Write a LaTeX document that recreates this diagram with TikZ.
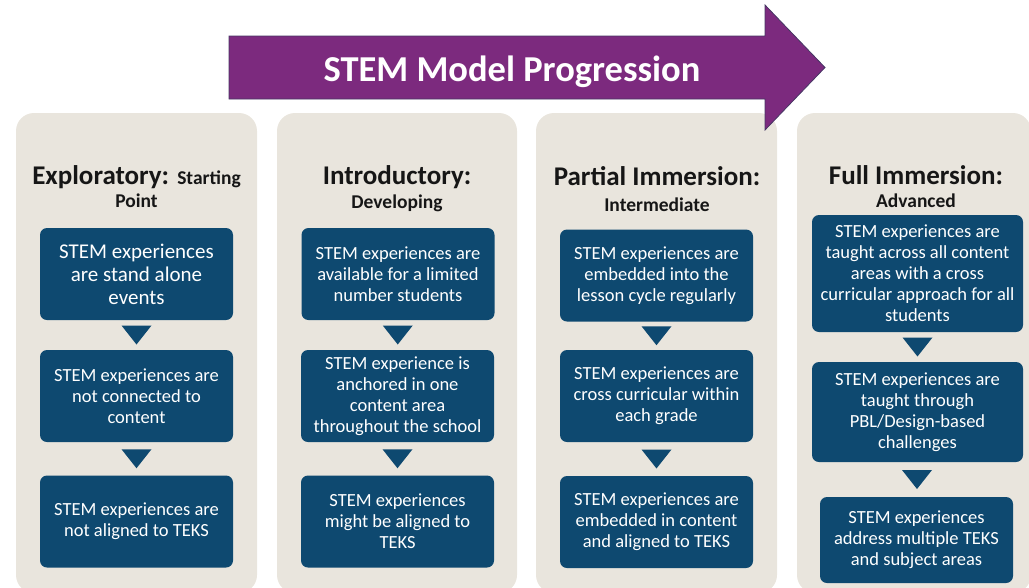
\documentclass[tikz,border=0pt]{standalone}
\usepackage{fontspec}
\setmainfont{Carlito}
\usetikzlibrary{calc,positioning}
\definecolor{stemPurple}{RGB}{124,42,126}
\definecolor{stemEdge}{RGB}{70,55,100}
\definecolor{stemBlue}{RGB}{14,73,112}
\definecolor{stemTan}{RGB}{233,229,221}
\definecolor{stemInk}{RGB}{22,22,22}

\tikzset{
  column/.style={fill=stemTan, rounded corners=18pt},
  stage/.style={fill=stemBlue, rounded corners=7pt, text=white, align=center,
    inner sep=1pt, minimum width=193pt, minimum height=92pt,
    font=\fontsize{18.5}{21}\selectfont},
  heading/.style={text=stemInk, anchor=base, inner sep=0pt,
    font=\bfseries\fontsize{27}{28}\selectfont},
  subheading/.style={text=stemInk, anchor=base, inner sep=0pt,
    font=\bfseries\fontsize{19.5}{22}\selectfont},
  pointer/.style={fill=stemBlue}
}

\begin{document}
\begin{tikzpicture}[x=1pt,y=-1pt]
  \useasboundingbox (0,0) rectangle (1029,587);

  % columns
  \fill[column] (16,113) rectangle (257,593);
  \fill[column] (277,113) rectangle (517,593);
  \fill[column] (536,113) rectangle (777,593);
  \fill[column] (797,113) rectangle (1031,593);

  % title arrow
  \filldraw[fill=stemPurple, draw=stemEdge, line width=0.8pt]
    (229,36) -- (765,36) -- (765,5) -- (825,67.5) -- (765,130) -- (765,99) -- (229,99) -- cycle;
  \node[text=white, anchor=base, font=\bfseries\fontsize{36.5}{40}\selectfont] (title) at (512,81) {STEM Model Progression};

  % headings
  \node[heading] (hExp) at (136.5,184) {Exploratory: {\fontsize{19.5}{22}\selectfont Starting}};
  \node[subheading] (sExp) at (136.5,207) {Point};
  \node[heading] (hInt) at (397,184) {Introductory:};
  \node[subheading] (sInt) at (397,208) {Developing};
  \node[heading] (hPar) at (657,185) {Partial Immersion:};
  \node[subheading] (sPar) at (657,211) {Intermediate};
  \node[heading] (hFul) at (916,184) {Full Immersion:};
  \node[subheading] (sFul) at (916,207) {Advanced};

  % exploratory
  \node[stage, font=\fontsize{21}{23}\selectfont] (e1) at (136.5,274) {STEM experiences\\are stand alone\\events};
  \node[stage] (e2) at (136.5,396) {STEM experiences are\\not connected to\\content};
  \node[stage] (e3) at (136.5,521.5) {STEM experiences are\\not aligned to TEKS};

  % introductory
  \node[stage] (i1) at (398,274) {STEM experiences are\\available for a limited\\number students};
  \node[stage] (i2) at (397.5,396) {STEM experience is\\anchored in one\\content area\\throughout the school};
  \node[stage] (i3) at (397.5,521.5) {STEM experiences\\might be aligned to\\TEKS};

  % partial immersion
  \node[stage] (p1) at (656.5,275.5) {STEM experiences are\\embedded into the\\lesson cycle regularly};
  \node[stage] (p2) at (656.5,396) {STEM experiences are\\cross curricular within\\each grade};
  \node[stage] (p3) at (656.5,522) {STEM experiences are\\embedded in content\\and aligned to TEKS};

  % full immersion
  \node[stage, minimum width=211pt, minimum height=117pt] (f1) at (917.5,273.5) {STEM experiences are\\taught across all content\\areas with a cross\\curricular approach for all\\students};
  \node[stage, minimum width=211pt, minimum height=100pt] (f2) at (917.5,412) {STEM experiences are\\taught through\\PBL/Design-based\\challenges};
  \node[stage, minimum height=86pt] (f3) at (916.5,540) {STEM experiences\\address multiple TEKS\\and subject areas};

  \foreach \from/\to in {e1/e2,e2/e3,i1/i2,i2/i3,p1/p2,p2/p3,f1/f2,f2/f3}
    \fill[pointer] ($(\from.south)!.5!(\to.north)$) +(-15,-9.5) -- +(15,-9.5) -- +(0,9.5) -- cycle;
\end{tikzpicture}
\end{document}
